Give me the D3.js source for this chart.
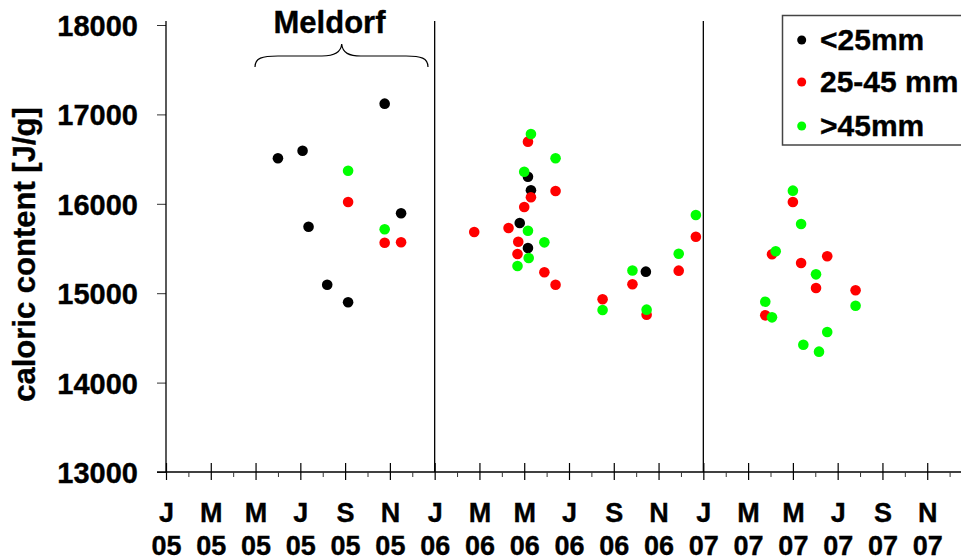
<!DOCTYPE html>
<html><head><meta charset="utf-8">
<script src="https://cdn.jsdelivr.net/npm/d3@7"></script>
<style>
body{margin:0;background:#fff}
svg{display:block;font-family:"Liberation Sans",Arial,sans-serif;font-weight:bold}
text{stroke:#000;stroke-width:0.35px}
</style>
</head><body>
<svg id="c" width="961" height="560"></svg>
<script>
// ---- data ----
const seriesNames = ["<25mm", "25-45 mm", ">45mm"];
const seriesColors = ["#000000", "#ff0000", "#00ff00"];

const smallDates = ["2005-06-01","2005-07-04","2005-07-12","2005-08-07","2005-09-05","2005-10-24","2005-11-16","2006-04-25","2006-05-06","2006-05-10","2006-05-06","2006-10-14"];
const smallValues = [16509,16594,15744,15095,14898,17120,15894,15785,16303,16151,15506,15241];

const midDates = ["2005-09-05","2005-10-24","2005-11-16","2006-02-24","2006-04-10","2006-04-23","2006-04-22","2006-05-01","2006-05-06","2006-05-10","2006-05-28","2006-06-13","2006-06-13","2006-08-16","2006-09-26","2006-10-15","2006-11-28","2006-12-21","2007-03-24","2007-04-03","2007-05-01","2007-05-12","2007-06-02","2007-06-17","2007-07-25"];
const midValues = [16020,15565,15570,15685,15729,15576,15439,15964,16695,16073,15234,16143,15095,14932,15100,14760,15252,15632,14752,15435,16020,15338,15058,15413,15033];

const largeDates = ["2005-09-05","2005-10-24","2006-04-22","2006-05-01","2006-05-06","2006-05-07","2006-05-10","2006-05-28","2006-06-13","2006-08-16","2006-09-26","2006-10-15","2006-11-28","2006-12-21","2007-03-24","2007-04-03","2007-04-08","2007-05-01","2007-05-12","2007-05-15","2007-06-02","2007-06-06","2007-06-17","2007-07-25"];
const largeValues = [16370,15715,15304,16359,15699,15394,16781,15569,16509,14812,15254,14816,15442,15875,14905,14730,15469,16147,15774,14424,15211,14346,14566,14860];

const monthLetters = ["J","F","M","A","M","J","J","A","S","O","N","D"];
const yTicks = [13000,14000,15000,16000,17000,18000];
const yTitle = "caloric content [J/g]";
const annotation = "Meldorf";
const separatorMonths = [12, 24];

// ---- helpers ----
function monthIndex(s){
  const [yy,mm,dd] = s.split("-").map(Number);
  return (yy-2005)*12 + (mm-1) + (dd-1)/30;
}
const svg = d3.select("#c");
const x = d3.scaleLinear().domain([0,36]).range([166, 972]);
const y = d3.scaleLinear().domain([13000,18000]).range([472, 25]);

// separators
svg.selectAll("line.sep").data(separatorMonths).join("line")
  .attr("x1", d=>x(d)).attr("x2", d=>x(d)).attr("y1", 21).attr("y2", y(13000))
  .attr("stroke","#000").attr("stroke-width",1.3);

// y axis
const yAxis = d3.axisLeft(y).tickValues(yTicks).tickSize(9).tickPadding(19).tickFormat(d3.format("d"));
const gy = svg.append("g").attr("transform","translate(166,0)").call(yAxis);
gy.select(".domain").remove();
gy.selectAll(".tick line").attr("stroke","#333").attr("stroke-width",1);
gy.selectAll(".tick text").attr("font-size",29).attr("font-family",null).attr("font-weight","bold").attr("fill","#000").attr("dy","0.36em");
svg.append("line").attr("x1",166).attr("x2",166).attr("y1",21).attr("y2",y(13000)).attr("stroke","#000").attr("stroke-width",1.3);

// x axis
svg.append("line").attr("x1",157).attr("x2",961).attr("y1",y(13000)).attr("y2",y(13000)).attr("stroke","#000").attr("stroke-width",1.3);
const majors = d3.range(0,36,2), minors = d3.range(1,36,2);
const gx = svg.append("g").attr("transform",`translate(0,${y(13000)})`)
  .call(d3.axisBottom(x).tickValues(majors).tickSize(8).tickPadding(0).tickFormat(""));
gx.select(".domain").remove();
gx.selectAll(".tick line").attr("y1",-9).attr("y2",8).attr("stroke","#000").attr("stroke-width",1.2);
gx.selectAll(".tick").each(function(d){
  const t = d3.select(this);
  t.append("text").attr("y",50).attr("text-anchor","middle").attr("font-size",27).attr("fill","#000").text(monthLetters[d%12]);
  t.append("text").attr("y",83).attr("text-anchor","middle").attr("font-size",27).attr("fill","#000")
    .text(String(5+Math.floor(d/12)).padStart(2,"0"));
});
const gxm = svg.append("g").attr("transform",`translate(0,${y(13000)})`)
  .call(d3.axisBottom(x).tickValues(minors).tickSize(5).tickFormat(""));
gxm.select(".domain").remove();
gxm.selectAll(".tick line").attr("stroke","#333").attr("stroke-width",1);

// y title
svg.append("text").attr("transform","translate(35,254.5) rotate(-90)").attr("text-anchor","middle")
  .attr("font-size",31).attr("fill","#000").text(yTitle);

// Meldorf annotation + brace
svg.append("text").attr("x",329.5).attr("y",33).attr("text-anchor","middle").attr("font-size",31).attr("fill","#000").text(annotation);
svg.append("path")
  .attr("d","M255,67 C255,58 262,56 278,56 L322,56 C334,56 341,53 341.7,44 C342.5,53 349,56 361,56 L406,56 C421,56 428,58 428,67")
  .attr("fill","none").attr("stroke","#000").attr("stroke-width",1.2);

// points
const series = [
  {dates: smallDates, values: smallValues},
  {dates: midDates, values: midValues},
  {dates: largeDates, values: largeValues}
];
series.forEach((s,i)=>{
  svg.append("g").selectAll("circle").data(s.dates.map((d,j)=>({m:monthIndex(d), v:s.values[j]}))).join("circle")
    .attr("cx", d=>x(d.m)).attr("cy", d=>y(d.v)).attr("r",5.3).attr("fill",seriesColors[i]);
});

// legend
const lg = svg.append("g");
lg.append("rect").attr("x",782.5).attr("y",15.5).attr("width",220).attr("height",129.5)
  .attr("fill","#fff").attr("stroke","#444").attr("stroke-width",1.5);
const legendY = [40, 82, 126];
seriesNames.forEach((n,i)=>{
  lg.append("circle").attr("cx",801.7).attr("cy",legendY[i]).attr("r",4.5).attr("fill",seriesColors[i]);
  lg.append("text").attr("x",820).attr("y",legendY[i]+10).attr("font-size",30).attr("fill","#000").text(n);
});
</script>
</body></html>
